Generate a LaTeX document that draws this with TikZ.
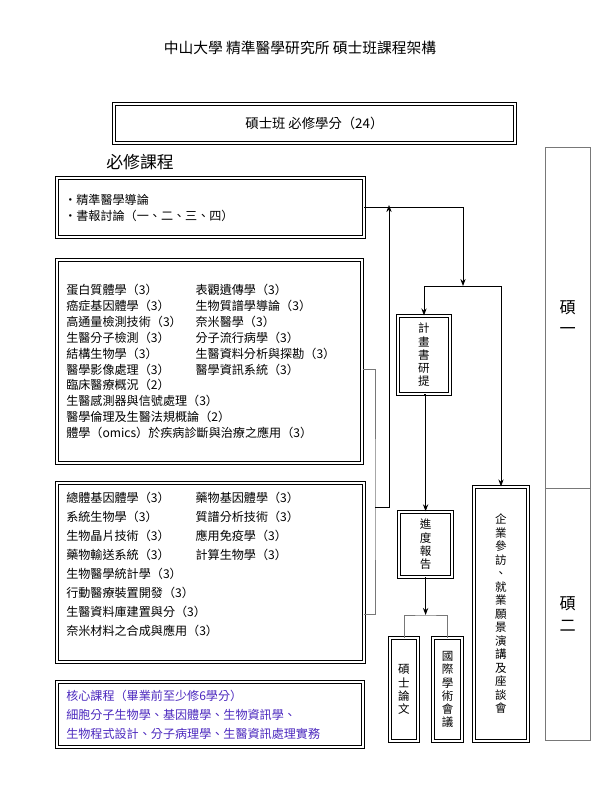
\documentclass[tikz,border=0pt]{standalone}
\usepackage{fontspec}
\setmainfont{Noto Sans CJK TC}
\usepackage{xcolor}
\definecolor{coreblue}{RGB}{75, 40, 190}
\definecolor{rulegray}{RGB}{120, 120, 120}
\usetikzlibrary{arrows.meta}

\tikzset{
	dbox/.style = {draw, double, double distance = 1.1pt, line width = 0.8pt, inner sep = 0pt},
	txt/.style = {font = \fontsize{8.6pt}{11.3pt}\selectfont, align = left, inner sep = 0pt},
	vtxt/.style = {font = \fontsize{8.2pt}{9.4pt}\selectfont, align = center, inner sep = 0pt},
	flow/.style = {semithick, -{Stealth[length = 5pt]}},
	link/.style = {thin, rulegray}
}
\newcommand{\col}[1]{\makebox[92pt][l]{#1}}

\begin{document}
\begin{tikzpicture}
	\useasboundingbox (0, 0) rectangle (15, -20);

	\node (title) at (7.5, -1.2) {\fontsize{10.5pt}{12pt}\selectfont 中山大學 精準醫學研究所 碩士班課程架構};
	\node[dbox, minimum width = 10.03cm, minimum height = 0.975cm] (req) at (7.86, -3.09) {\fontsize{9.5pt}{11pt}\selectfont 碩士班 必修學分（24）};
	\node (reqhead) at (3.5, -4.05) {\fontsize{12pt}{14pt}\selectfont 必修課程};

	% course boxes
	\node[dbox, minimum width = 7.675cm, minimum height = 1.475cm] (intro) at (5.26, -5.19) {};
	\node[txt, anchor = west] (introtxt) at (1.6, -5.2) {・精準醫學導論\\・書報討論（一、二、三、四）};

	\node[dbox, minimum width = 7.625cm, minimum height = 5.075cm] (core1) at (5.24, -9.04) {};
	\node[txt, anchor = north west] (core1txt) at (1.65, -7.1) {%
		\col{蛋白質體學（3）}表觀遺傳學（3）\\
		\col{癌症基因體學（3）}生物質譜學導論（3）\\
		\col{高通量檢測技術（3）}奈米醫學（3）\\
		\col{生醫分子檢測（3）}分子流行病學（3）\\
		\col{結構生物學（3）}生醫資料分析與探勘（3）\\
		\col{醫學影像處理（3）}醫學資訊系統（3）\\
		臨床醫療概況（2）\\
		生醫感測器與信號處理（3）\\
		醫學倫理及生醫法規概論（2）\\
		體學（omics）於疾病診斷與治療之應用（3）};

	\node[dbox, minimum width = 7.675cm, minimum height = 4.475cm] (core2) at (5.26, -14.31) {};
	\node[txt, anchor = north west, font = \fontsize{8.6pt}{13.5pt}\selectfont] (core2txt) at (1.65, -12.3) {%
		\col{總體基因體學（3）}藥物基因體學（3）\\
		\col{系統生物學（3）}質譜分析技術（3）\\
		\col{生物晶片技術（3）}應用免疫學（3）\\
		\col{藥物輸送系統（3）}計算生物學（3）\\
		生物醫學統計學（3）\\
		行動醫療裝置開發（3）\\
		生醫資料庫建置與分（3）\\
		奈米材料之合成與應用（3）};

	\node[dbox, minimum width = 7.65cm, minimum height = 1.625cm] (core3) at (5.25, -17.86) {};
	\node[txt, anchor = west, text = coreblue, font = \fontsize{8.6pt}{13.5pt}\selectfont] (core3txt) at (1.65, -17.88) {核心課程（畢業前至少修6學分）\\細胞分子生物學、基因體學、生物資訊學、\\生物程式設計、分子病理學、生醫資訊處理實務};

	% milestones
	\node[dbox, vtxt, minimum width = 1.3cm, minimum height = 1.95cm] (plan) at (10.6, -8.875) {計\\畫\\書\\研\\提};
	\node[dbox, vtxt, minimum width = 1.325cm, minimum height = 1.625cm] (prog) at (10.64, -13.61) {進\\度\\報\\告};
	\node[dbox, vtxt, minimum width = 0.7cm, minimum height = 2.575cm] (thesis) at (10.1, -17.24) {碩\\士\\論\\文};
	\node[dbox, vtxt, minimum width = 0.725cm, minimum height = 2.575cm] (conf) at (11.19, -17.24) {國\\際\\學\\術\\會\\議};
	\node[dbox, vtxt, minimum width = 1.35cm, minimum height = 6.35cm, font = \fontsize{8.2pt}{9.6pt}\selectfont] (visit) at (12.525, -15.35) {企\\業\\參\\訪\\、\\就\\業\\願\\景\\演\\講\\及\\座\\談\\會};

	% year column
	\node[draw = rulegray, thin, minimum width = 1.125cm, minimum height = 8.525cm, align = center, font = \fontsize{11.5pt}{15.6pt}\selectfont] (year1) at (14.19, -7.94) {碩\\一};
	\node[draw = rulegray, thin, minimum width = 1.125cm, minimum height = 6.3cm, align = center, font = \fontsize{11.5pt}{15.6pt}\selectfont] (year2) at (14.19, -15.35) {碩\\二};

	% connectors
	\coordinate (split) at (11.575, -7.15);
	\coordinate (join) at (9.375, -12.675);
	\coordinate (back) at (9.725, -5.125);
	\coordinate (fork) at (10.64, -15.375);
	\draw[flow] (intro.east) -| (split);
	\draw[flow] (split) -| (plan.north);
	\draw[flow] (split) -| (visit.north);
	\draw[flow] (plan.south) -- (prog.north |- plan.south) -- (prog.north);
	\draw[flow] (prog.south) -- (fork);
	\draw[link] (thesis.north) |- (fork) -| (conf.north);
	\draw[link] ([yshift = -0.19cm]core1.east) -| (join) |- ([yshift = -1.04cm]core2.east);
	\draw[flow] (join) -| (back);
\end{tikzpicture}
\end{document}
